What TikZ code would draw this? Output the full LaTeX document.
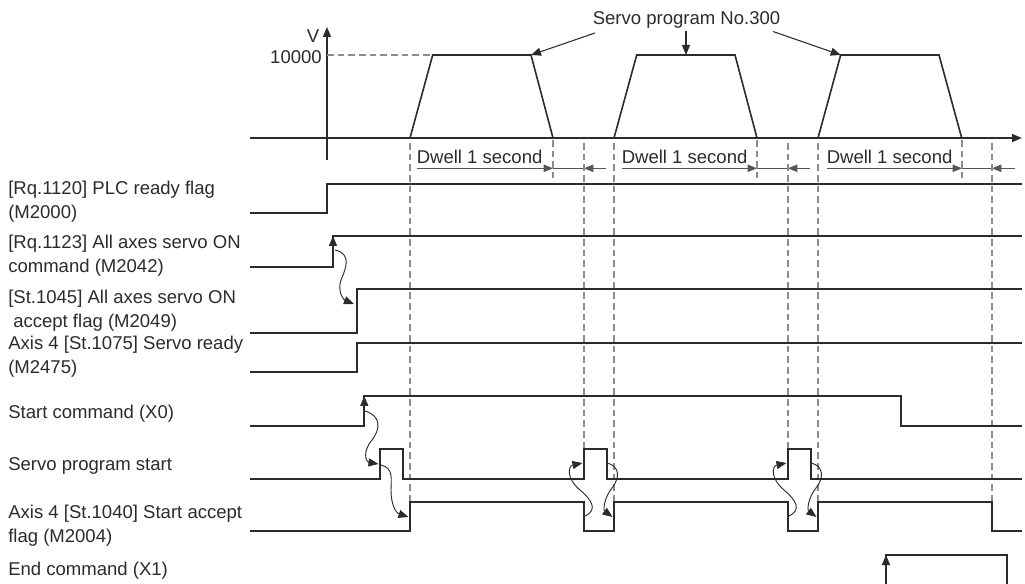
\documentclass[tikz,border=0pt]{standalone}
\usepackage{fontspec}
\setmainfont{Liberation Sans}
\usetikzlibrary{arrows.meta}
\definecolor{ink}{HTML}{2B2B2B}
\definecolor{dashgray}{HTML}{8C8C8C}
\definecolor{dwellgray}{HTML}{555555}
\begin{document}
\begin{tikzpicture}[x=0.75pt,y=-0.75pt,
  sig/.style={draw=ink,line width=1.5pt,line join=miter},
  axisline/.style={draw=ink,line width=1.1pt},
  trap/.style={draw=ink,line width=1.2pt,line join=miter},
  guide/.style={draw=dashgray,line width=1pt,dash pattern=on 5pt off 3pt},
  tip/.style={-{Triangle[length=7.5pt,width=6pt]}},
  smalltip/.style={-{Triangle[length=7pt,width=5.5pt]}},
  dwell/.style={draw=dwellgray,line width=0.8pt},
  wav/.style={draw=ink,line width=0.7pt,-{Triangle[length=7.5pt,width=6pt]}},
  lbl/.style={font=\fontsize{13.9}{18}\selectfont,text=ink,inner sep=0pt,align=left,anchor=west},
]
\useasboundingbox (0,0) rectangle (1025,584);

% ---------------- velocity graph ----------------
\coordinate (tax0) at (250,138);
\coordinate (tax1) at (1022,138);
\coordinate (vax0) at (327,160);
\coordinate (vax1) at (327,27);
\draw[axisline,tip] (tax0) -- (tax1);
\draw[axisline,tip] (vax0) -- (vax1);
\node[lbl,anchor=center] (vlab) at (313,36) {V};
\node[lbl,anchor=east] (vmax) at (322,57) {10000};
\draw[guide] (327,55) -- (432.7,55);

\coordinate (t1tr) at (531,55);
\coordinate (t2tm) at (686,55);
\coordinate (t3tl) at (840.7,55);
\draw[trap] (410,138) -- (432.7,55) -- (t1tr) -- (553,138);
\draw[trap] (614,138) -- (636.7,55) -- (735,55) -- (757,138);
\draw[trap] (818,138) -- (t3tl) -- (939,55) -- (961.7,138);

\node[lbl,anchor=center] (sp) at (686.5,20) {Servo program No.300};
\coordinate (sa1) at (595,33);
\coordinate (sa2) at (686,31);
\coordinate (sa3) at (773,31.5);
\draw[draw=ink,line width=0.8pt,tip] (sa1) -- (t1tr);
\draw[draw=ink,line width=0.8pt,tip] (sa2) -- (t2tm);
\draw[draw=ink,line width=0.8pt,tip] (sa3) -- (t3tl);

% dwell labels and arrows
\node[lbl] (dw1) at (416.5,157) {Dwell 1 second};
\node[lbl] (dw2) at (621.5,157) {Dwell 1 second};
\node[lbl] (dw3) at (826.5,157) {Dwell 1 second};
\foreach \s/\e/\n/\r in {416.5/553/584/606, 621.5/757/788/810, 826.5/962/992/1015}{
  \draw[dwell,smalltip] (\s,168.3) -- (\e,168.3);
  \draw[dwell] (\e,168.3) -- (\n,168.3);
  \draw[dwell,smalltip] (\r,168.3) -- (\n,168.3);
}

% dashed guides
\draw[guide] (410,143) -- (410,501.7);
\draw[guide] (553,140) -- (553,178);
\draw[guide] (584,143) -- (584,449);
\draw[guide] (614,143) -- (614,501.7);
\draw[guide] (757,140) -- (757,178);
\draw[guide] (788,143) -- (788,449);
\draw[guide] (818,143) -- (818,501.7);
\draw[guide] (962,140) -- (962,178);
\draw[guide] (992,143) -- (992,501.7);

% ---------------- signal labels ----------------
\node[lbl] (l1) at (8,201.5) {[Rq.1120] PLC ready flag\\(M2000)};
\node[lbl] (l2) at (8,255.5) {[Rq.1123] All axes servo ON\\command (M2042)};
\node[lbl] (l3) at (8,311) {[St.1045] All axes servo ON\\\hspace*{3.75pt}accept flag (M2049)};
\node[lbl] (l4) at (8,357) {Axis 4 [St.1075] Servo ready\\(M2475)};
\node[lbl] (l5) at (8,414) {Start command (X0)};
\node[lbl] (l6) at (8,466) {Servo program start};
\node[lbl] (l7) at (8,526) {Axis 4 [St.1040] Start accept\\flag (M2004)};
\node[lbl] (l8) at (8,571) {End command (X1)};

% ---------------- signals ----------------
\draw[sig] (250,212.7) -- (327,212.7) -- (327,184) -- (1022,184);
\draw[sig] (250,267.3) -- (333,267.3) -- (333,236) -- (1022,236);
\draw[sig] (250,332.7) -- (357,332.7) -- (357,289) -- (1022,289);
\draw[sig] (250,372.3) -- (357,372.3) -- (357,342.7) -- (1022,342.7);
\draw[sig] (250,425.7) -- (364.3,425.7) -- (364.3,396) -- (901,396) -- (901,425.7) -- (1022,425.7);
\draw[sig] (250,479) -- (380,479) -- (380,449) -- (402.5,449) -- (402.5,479)
  -- (584,479) -- (584,449) -- (606.5,449) -- (606.5,479)
  -- (788,479) -- (788,449) -- (810.5,449) -- (810.5,479) -- (1022,479);
\draw[sig] (250,531) -- (410,531) -- (410,501.7) -- (584,501.7) -- (584,531) -- (614,531)
  -- (614,501.7) -- (788,501.7) -- (788,531) -- (818,531) -- (818,501.7) -- (992,501.7)
  -- (992,531) -- (1022,531);
\draw[sig] (250,584.6) -- (886,584.6) -- (886,555) -- (1007,555) -- (1007,584.6) -- (1022,584.6);

% rising-edge markers
\draw[draw=ink,line width=1pt,tip] (333,250) -- (333,236);
\draw[draw=ink,line width=1pt,tip] (364.3,410) -- (364.3,396);
\draw[draw=ink,line width=1pt,tip] (886,569) -- (886,555);

% ---------------- wavy cause arrows ----------------
\draw[wav] (335,250) .. controls (352,254) and (346,268) .. (341,280)
  .. controls (337,292) and (344,300) .. (354,304);
\draw[wav] (365,411) .. controls (382,416) and (380,430) .. (372,440)
  .. controls (362,452) and (366,462) .. (378.5,464);
\draw[wav] (381,465) .. controls (394,468) and (391,480) .. (391,490)
  .. controls (391,505) and (396,513) .. (408.5,517);
\foreach \d in {0,204}{
  \draw[wav] (585+\d,516) .. controls (598+\d,510) and (592+\d,500) .. (580+\d,490)
    .. controls (566+\d,478) and (568+\d,466) .. (582.5+\d,463);
  \draw[wav] (607+\d,463) .. controls (620+\d,466) and (620+\d,478) .. (612+\d,488)
    .. controls (604+\d,498) and (603+\d,510) .. (612.5+\d,517);
}
\end{tikzpicture}
\end{document}
